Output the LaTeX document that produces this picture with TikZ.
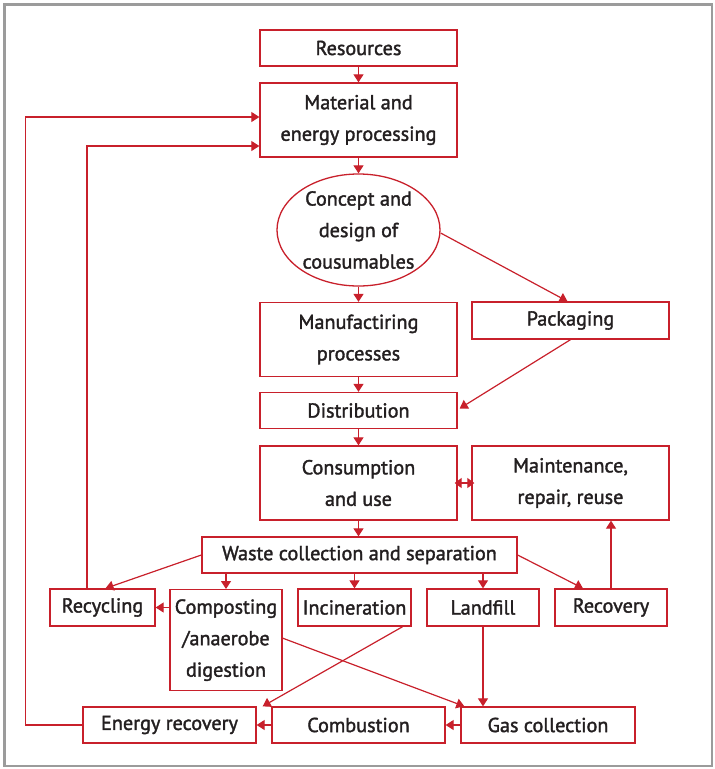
\documentclass[tikz,border=0pt]{standalone}
\usepackage{fontspec}
\setmainfont{PT Sans}
\newfontfamily\labelfont{PT Sans}[FakeBold=1.7]
\usetikzlibrary{arrows.meta,shapes.geometric,calc}
\definecolor{flowred}{HTML}{C8202B}
\definecolor{ink}{HTML}{231F20}
\definecolor{framegray}{HTML}{9B9B9B}

\begin{document}
\begin{tikzpicture}[x=1pt,y=-1pt,
  box/.style={draw=flowred, line width=1.3pt, inner sep=0pt, text=ink,
    font=\labelfont\fontsize{20.2}{31.5}\selectfont, align=center},
  link/.style={draw=flowred, line width=1.2pt, -{Triangle[length=8pt,width=10pt]}},
  twoway/.style={draw=flowred, line width=1.2pt,
    {Triangle[length=7pt,width=10pt]}-{Triangle[length=7pt,width=10pt]}}]

\useasboundingbox (0,0) rectangle (715,769);
\draw[framegray, line width=2.5pt] (4.7,4.7) rectangle (712,766);

% main chain
\node[box, minimum width=197pt, minimum height=36pt] (res) at (358.5,48) {Resources};
\node[box, minimum width=197pt, minimum height=74pt] (mat) at (358.5,120) {Material and\\energy processing};
\node[box, ellipse, minimum width=163pt, minimum height=112pt] (concept) at (358.5,230) {Concept and\\design of\\cousumables};
\node[box, minimum width=197pt, minimum height=74pt] (manu) at (358.5,339.5) {Manufactiring\\processes};
\node[box, minimum width=197pt, minimum height=37pt] (pack) at (570.5,320.5) {Packaging};
\node[box, minimum width=197pt, minimum height=36pt] (dist) at (358.5,410.5) {Distribution};
\node[box, minimum width=197pt, minimum height=74pt] (cons) at (358.5,483) {Consumption\\and use};
\node[box, minimum width=197pt, minimum height=74pt] (maint) at (570.5,483) {Maintenance,\\repair, reuse};
\node[box, minimum width=315pt, minimum height=36pt] (waste) at (359.5,555) {Waste collection and separation};

% waste streams
\node[box, minimum width=105pt, minimum height=37pt] (recyc) at (102.5,607.5) {Recycling};
\node[box, minimum width=112pt, minimum height=101pt, anchor=north] (compo) at (226,589) {Composting\\/anaerobe\\digestion};
\node[box, minimum width=113pt, minimum height=37pt] (incin) at (354.5,607.5) {Incineration};
\node[box, minimum width=112pt, minimum height=37pt] (landf) at (483,607.5) {Landfill};
\node[box, minimum width=112pt, minimum height=37pt] (recov) at (611,607.5) {Recovery};

% energy line
\node[box, minimum width=173pt, minimum height=36pt] (enrec) at (169.5,725) {Energy recovery};
\node[box, minimum width=173pt, minimum height=36pt] (combu) at (358.5,725) {Combustion};
\node[box, minimum width=174pt, minimum height=36pt] (gasco) at (548,725) {Gas collection};

% connectors
\draw[link] (res) -- (mat);
\draw[link] (mat) -- (concept);
\draw[link] (concept) -- (manu);
\draw[link] ($(concept.east)+(0,3)$) -- ($(pack.north)+(-3,0)$);
\draw[link] (manu) -- (dist);
\draw[link] (pack.south) -- ($(dist.east)+(2,-2)$);
\draw[link] (dist) -- (cons);
\draw[twoway, shorten <=-3pt, shorten >=-3pt] (cons.east) -- (maint.west);
\draw[link] (cons.south) -- (cons.south |- waste.north);

\draw[link] (waste.west) -- ($(recyc.north)+(3,0)$);
\draw[link] (compo.north |- waste.south) -- (compo.north);
\draw[link] (incin.north |- waste.south) -- (incin.north);
\draw[link] (landf.north |- waste.south) -- (landf.north);
\draw[link] (waste.east) -- ($(recov.north)+(-28,0)$);
\draw[link] (recov.north) -- (recov.north |- maint.south);
\draw[link] (compo.west |- recyc.east) -- (recyc.east);

\draw[link] ($(recyc.north)+(-15.5,0)$) |- ($(mat.west)+(0,26)$);
\draw[link] (enrec.west) -- ++(-57,0) |- ($(mat.west)+(0,-3)$);

\draw[link] ($(compo.east)+(0,-2)$) -- ($(gasco.north west)+(4,0)$);
\draw[link] ($(incin.south east)+(-9,0)$) -- ($(enrec.north east)+(6,0)$);
\draw[link] (landf.south) -- (landf.south |- gasco.north);
\draw[link] (gasco.west) -- (combu.east);
\draw[link] (combu.west) -- (enrec.east);
\end{tikzpicture}
\end{document}
